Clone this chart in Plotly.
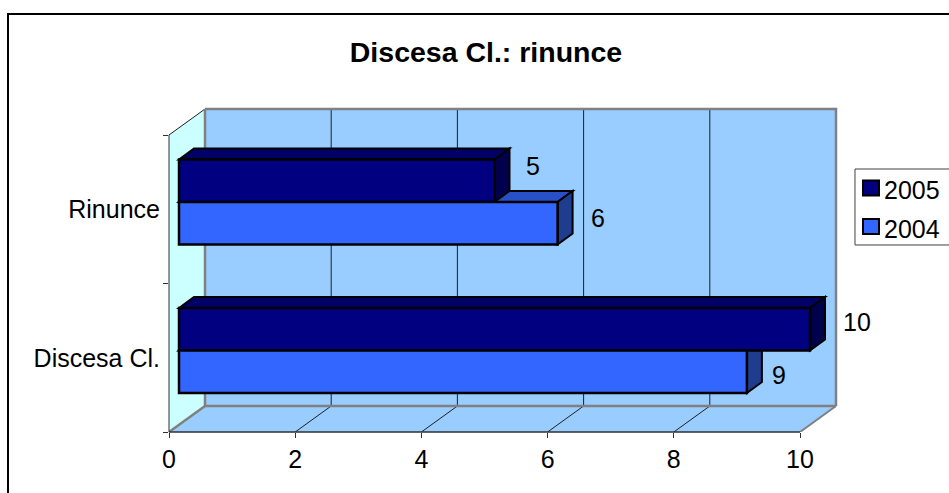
import plotly.graph_objects as go

title = "Discesa Cl.: rinunce"
categories = ["Discesa Cl.", "Rinunce"]
series_names = ["2005", "2004"]
values_2005 = [10, 5]
values_2004 = [9, 6]
x_ticks = [0, 2, 4, 6, 8, 10]

W, H = 949, 493
PX_X, PX_Y = 63.1, 148.5
L, B, R_PX, T_PX = 169, 432, 840, 105
xmax = (R_PX - L) / PX_X
ymax = (B - T_PX) / PX_Y
ncat = len(categories)

wdx, wdy = 36 / PX_X, 26 / PX_Y      # depth of the walls
fdx, fdy = 10 / PX_X, 7.3 / PX_Y     # front gap of bars
bdx, bdy = 15 / PX_X, 11 / PX_Y      # depth of bars
bw = 42.5 / PX_Y

WALL, FLOOR, SIDE = "#99CCFF", "#99CCFF", "#CCFFFF"
GREY = "#808080"
C05 = ("#000080", "#000066", "#00004D")
C04 = ("#3366FF", "#2850C8", "#1F3D8F")


def poly(pts, fill=None, color="black", width=1, layer="below"):
    p = "M" + "L".join(f"{x:.4f},{y:.4f}" for x, y in pts) + ("Z" if fill else "")
    d = dict(type="path", path=p, xref="x", yref="y", layer=layer,
             line=dict(color=color, width=width))
    if fill:
        d["fillcolor"] = fill
    return d


def px(x):
    return (x - L) / (R_PX - L)


def py(y):
    return (B - y) / (B - T_PX)


def paper_line(pts, color="black", width=1, layer="above", fill=None):
    d = dict(type="path", xref="paper", yref="paper", layer=layer,
             path="M" + "L".join(f"{px(a):.5f},{py(b):.5f}" for a, b in pts) + ("Z" if fill else ""),
             line=dict(color=color, width=width))
    if fill:
        d["fillcolor"] = fill
    return d


shapes = [
    poly([(0, 0), (wdx, wdy), (wdx, ncat + wdy), (0, ncat)], SIDE, SIDE, 0.5),
    poly([(wdx, wdy), (10 + wdx, wdy), (10 + wdx, ncat + wdy), (wdx, ncat + wdy)], WALL, WALL, 0.5),
    poly([(0, 0), (10, 0), (10 + wdx, wdy), (wdx, wdy)], FLOOR, FLOOR, 0.5),
]
for t in x_ticks[1:-1]:
    shapes.append(poly([(t + wdx, wdy), (t + wdx, ncat + wdy)], color="#202020", width=1))
    shapes.append(poly([(t, 0), (t + wdx, wdy)], color="#202020", width=1))
shapes += [
    poly([(0, ncat), (wdx, ncat + wdy)], color="#202020", width=1),
    poly([(wdx, ncat + wdy), (10 + wdx, ncat + wdy), (10 + wdx, wdy)], color=GREY, width=2.5),
    poly([(wdx, ncat + wdy), (wdx, wdy), (10 + wdx, wdy)], color=GREY, width=2.5),
    poly([(0, 0), (wdx, wdy)], color=GREY, width=2.5),
    poly([(10, 0), (10 + wdx, wdy)], color=GREY, width=2),
]

centers_05 = [i + 0.5 + fdy + bw / 2 for i in range(ncat)]
centers_04 = [i + 0.5 + fdy - bw / 2 for i in range(ncat)]


def faces(vals, centers, cols):
    out = []
    for v, c in zip(vals, centers):
        x0, x1 = fdx, fdx + v
        y0, y1 = c - bw / 2, c + bw / 2
        out.append(poly([(x0, y1), (x0 + bdx, y1 + bdy), (x1 + bdx, y1 + bdy), (x1, y1)], cols[1], "black", 2))
        out.append(poly([(x1, y0), (x1 + bdx, y0 + bdy), (x1 + bdx, y1 + bdy), (x1, y1)], cols[2], "black", 2))
    return out


shapes += faces(values_2004, centers_04, C04)
shapes += faces(values_2005, centers_05, C05)

# axis lines (only across the front of the box)
shapes.append(paper_line([(L, B), (L + 10 * PX_X, B)], "#303030", 1.5))
shapes.append(paper_line([(L, B), (L, B - ncat * PX_Y)], "#303030", 1))
# chart frame and legend frame
shapes.append(paper_line([(8, 520), (8, 14), (970, 14)], "black", 2))
shapes.append(paper_line([(970, 169), (855, 169), (855, 245), (970, 245)], "#404040", 1))

fig = go.Figure()
for name, vals, centers, cols in [
    (series_names[0], values_2005, centers_05, C05),
    (series_names[1], values_2004, centers_04, C04),
]:
    fig.add_trace(go.Bar(
        name=name, orientation="h", x=vals, y=centers, base=fdx, width=bw,
        showlegend=False,
        marker=dict(color=cols[0], line=dict(color="black", width=2.5)),
        hoverinfo="skip",
    ))

FONT = "Liberation Sans, Arial, sans-serif"
FS = 25
label_shift = [(values_2005[1], centers_05[1], 38, 15),
               (values_2004[1], centers_04[1], 40, 5),
               (values_2005[0], centers_05[0], 47, 7),
               (values_2004[0], centers_04[0], 32, -3)]
annotations = [dict(x=fdx + v, y=c, xref="x", yref="y", text=str(v), showarrow=False,
                    xshift=dx, yshift=dy, font=dict(size=FS, family=FONT, color="black"))
               for v, c, dx, dy in label_shift]

# legend entries
for name, col, yc in [(series_names[0], C05[0], 188), (series_names[1], C04[0], 226.5)]:
    shapes.append(paper_line([(863, yc - 7.5), (879, yc - 7.5), (879, yc + 7.5), (863, yc + 7.5)],
                             "black", 2, fill=col))
    annotations.append(dict(x=px(882), y=py(yc + 2), xref="paper", yref="paper", xanchor="left",
                            yanchor="middle", text=name, showarrow=False,
                            font=dict(size=FS, family=FONT, color="black")))

fig.update_layout(
    width=W, height=H, autosize=False, showlegend=False,
    margin=dict(l=L, r=W - R_PX, t=T_PX, b=H - B, pad=0),
    paper_bgcolor="white", plot_bgcolor="white",
    barmode="overlay", shapes=shapes, annotations=annotations,
    font=dict(family=FONT, size=FS, color="black"),
    title=dict(text=f"<b>{title}</b>", x=486 / W, xanchor="center", y=1 - 52 / H, yanchor="middle",
               font=dict(size=28.5, family=FONT, color="black")),
    xaxis=dict(range=[0, xmax], tickvals=x_ticks, showgrid=False, zeroline=False, showline=False,
               ticks="outside", ticklen=5, tickcolor="#303030", ticklabelstandoff=0,
               tickfont=dict(size=FS, family=FONT)),
    yaxis=dict(range=[0, ymax], tickvals=[i + 0.5 for i in range(ncat)], ticktext=categories,
               showgrid=False, zeroline=False, showline=False,
               ticks="", ticklabelstandoff=8, tickfont=dict(size=FS, family=FONT),
               minor=dict(tickvals=list(range(ncat + 1)), ticks="outside", ticklen=5,
                          tickcolor="#303030", showgrid=False)),
)

fig.write_html("out.html", config=dict(displayModeBar=False),
               post_script="document.body.style.margin='0';document.body.style.overflow='hidden';")
